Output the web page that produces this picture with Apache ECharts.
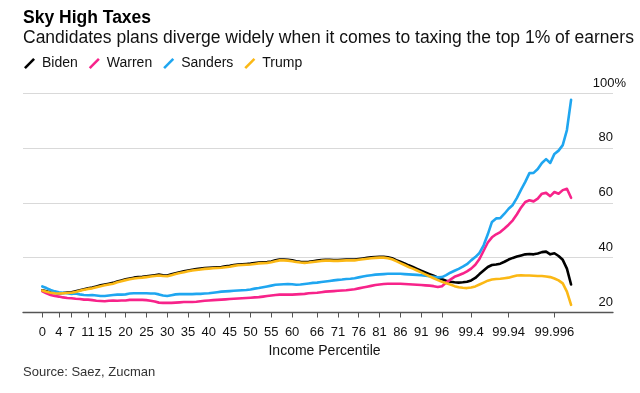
<!DOCTYPE html>
<html><head><meta charset="utf-8">
<script src="https://cdn.jsdelivr.net/npm/echarts@6/dist/echarts.min.js"></script>
<style>html,body{margin:0;padding:0;background:#fff}#c{width:640px;height:393px}</style>
</head><body><div id="c"></div>
<script>
// Income percentile groups (one category per group)
const categories = [
 '0','1','2','3','4','5','6','7','8','9',
 '10','11','12','13','14','15','16','17','18','19',
 '20','21','22','23','24','25','26','27','28','29',
 '30','31','32','33','34','35','36','37','38','39',
 '40','41','42','43','44','45','46','47','48','49',
 '50','51','52','53','54','55','56','57','58','59',
 '60','61','62','63','64','65','66','67','68','69',
 '70','71','72','73','74','75','76','77','78','79',
 '80','81','82','83','84','85','86','87','88','89',
 '90','91','92','93','94','95','96','97','98','99',
 '99.1','99.2','99.3','99.4','99.5','99.6','99.7','99.8','99.9',
 '99.91','99.92','99.93','99.94','99.95','99.96','99.97','99.98','99.99',
 '99.991','99.992','99.993','99.994','99.995','99.996','99.997','99.998','99.999',
 '99.9991'
];
const tickLabels = ['0','4','7','11','15','20','25','30','35','40','45','50','55','60','66','71','76','81','86','91','96','99.4','99.94','99.996'];
const yTicks = [20, 40, 60, 80, 100];

const biden = [
 28.1,27.7,27.3,27.1,27.0,27.1,27.3,27.4,27.7,28.1,
 28.5,28.8,29.1,29.5,29.9,30.2,30.5,30.8,31.3,31.7,
 32.1,32.4,32.7,32.9,33.0,33.2,33.4,33.6,33.8,33.6,
 33.5,33.9,34.3,34.7,35.0,35.3,35.6,35.8,36.0,36.2,
 36.3,36.4,36.5,36.6,36.8,37.0,37.3,37.5,37.6,37.7,
 37.8,38.0,38.2,38.3,38.4,38.6,39.0,39.3,39.3,39.2,
 39.0,38.7,38.5,38.4,38.5,38.7,38.9,39.1,39.2,39.2,
 39.1,39.1,39.2,39.3,39.3,39.3,39.5,39.7,39.9,40.1,
 40.2,40.3,40.3,40.1,39.8,39.1,38.5,37.9,37.2,36.6,
 35.9,35.2,34.6,34.0,33.4,32.7,32.1,31.6,31.2,31.0,
 30.9,31.0,31.2,31.7,32.6,34.0,35.3,36.6,37.3,37.5,
 37.8,38.5,39.3,39.9,40.4,40.8,41.2,41.3,41.2,41.5,
 42.0,42.2,41.2,41.6,40.6,39.2,36.0,30.2
];
const warren = [
 27.7,27.0,26.4,26.0,25.8,25.5,25.3,25.2,25.0,24.9,
 24.7,24.7,24.5,24.3,24.2,24.1,24.3,24.4,24.3,24.4,
 24.4,24.6,24.6,24.6,24.6,24.5,24.3,24.0,23.6,23.5,
 23.5,23.5,23.6,23.7,23.8,23.8,23.8,23.9,24.1,24.3,
 24.4,24.5,24.6,24.7,24.8,24.9,25.0,25.1,25.2,25.3,
 25.4,25.5,25.6,25.8,26.0,26.2,26.4,26.5,26.5,26.5,
 26.5,26.6,26.7,26.8,27.0,27.1,27.2,27.4,27.6,27.7,
 27.8,27.9,28.0,28.1,28.3,28.5,28.8,29.1,29.4,29.7,
 30.0,30.2,30.4,30.5,30.5,30.5,30.5,30.4,30.3,30.2,
 30.1,30.0,29.9,29.8,29.6,29.3,29.6,30.9,32.0,33.0,
 33.6,34.2,35.0,36.0,37.4,39.5,42.5,45.5,47.4,48.5,
 49.3,50.6,52.0,53.6,55.8,58.3,60.3,60.9,60.5,61.5,
 63.3,63.6,62.4,63.9,63.3,64.6,65.1,61.8
];
const sanders = [
 29.5,28.9,28.2,27.7,27.4,27.2,27.0,26.8,26.9,26.6,
 26.4,26.3,26.4,26.2,26.0,26.0,26.2,26.4,26.5,26.5,
 26.6,26.9,27.0,27.0,27.0,27.0,26.9,26.9,26.6,26.2,
 26.0,26.3,26.6,26.7,26.7,26.7,26.7,26.8,26.8,26.9,
 27.0,27.2,27.4,27.6,27.7,27.8,27.9,28.0,28.1,28.2,
 28.4,28.7,28.9,29.2,29.5,29.8,30.1,30.2,30.3,30.4,
 30.3,30.1,30.2,30.4,30.6,30.8,30.9,31.1,31.3,31.5,
 31.7,31.9,32.0,32.2,32.3,32.5,32.8,33.1,33.4,33.6,
 33.8,33.9,34.0,34.1,34.1,34.1,34.1,34.0,33.9,33.8,
 33.7,33.6,33.4,33.2,33.0,32.8,32.9,33.6,34.5,35.2,
 35.9,36.7,37.6,39.0,40.2,41.7,44.5,48.5,53.0,54.3,
 54.4,56.0,57.8,59.2,61.8,64.8,67.6,70.8,70.9,72.3,
 74.5,75.9,74.5,77.8,79.0,81.0,86.5,97.5
];
const trump = [
 28.0,27.6,27.2,27.0,26.9,27.0,27.1,27.2,27.5,27.9,
 28.3,28.6,28.8,29.2,29.6,29.9,30.2,30.5,31.0,31.4,
 31.8,32.1,32.4,32.6,32.7,32.9,33.1,33.3,33.5,33.3,
 33.2,33.6,34.0,34.4,34.7,35.0,35.3,35.5,35.7,35.9,
 36.0,36.1,36.2,36.3,36.5,36.7,37.0,37.2,37.3,37.4,
 37.5,37.7,37.9,38.0,38.1,38.3,38.7,39.0,39.0,38.9,
 38.7,38.4,38.2,38.1,38.2,38.4,38.6,38.8,38.9,38.9,
 38.8,38.8,38.9,39.0,39.0,39.0,39.2,39.4,39.6,39.8,
 39.9,40.0,40.0,39.8,39.4,38.7,38.0,37.3,36.6,36.0,
 35.3,34.6,33.9,33.2,32.5,31.8,31.2,30.7,30.2,29.6,
 29.2,29.0,28.9,29.1,29.5,30.2,30.9,31.6,32.0,32.2,
 32.3,32.5,32.7,33.1,33.5,33.6,33.5,33.5,33.4,33.3,
 33.3,33.1,32.9,32.4,31.7,30.6,27.6,22.8
];

const seriesNames = ['Biden', 'Warren', 'Sanders', 'Trump'];
const seriesValues = [biden, warren, sanders, trump];
const seriesColors = ['#000000', '#f7238a', '#1fa6f0', '#fbb815'];

const FONT = "'Liberation Sans', Arial, Helvetica, sans-serif";
const slash = 'path://M0,9.2 L9.2,0 L11,1.8 L1.8,11 Z';
const tickIdx = tickLabels.map(l => categories.indexOf(l));

const chart = echarts.init(document.getElementById('c'), null, {renderer: 'canvas'});
chart.setOption({
  animation: false,
  backgroundColor: '#ffffff',
  textStyle: {fontFamily: FONT},
  title: [
    {text: 'Sky High Taxes', left: 23, top: 8.7, padding: 0,
     textStyle: {fontFamily: FONT, fontSize: 17.5, fontWeight: 'bold', color: '#000'}},
    {text: 'Candidates plans diverge widely when it comes to taxing the top 1% of earners', left: 23, top: 29.3, padding: 0,
     textStyle: {fontFamily: FONT, fontSize: 17.5, fontWeight: 'normal', color: '#111'}},
    {text: 'Source: Saez, Zucman', left: 23, top: 366, padding: 0,
     textStyle: {fontFamily: FONT, fontSize: 13, fontWeight: 'normal', color: '#333'}}
  ],
  legend: {
    left: 24, top: 56.5, padding: 0, itemWidth: 11, itemHeight: 11, itemGap: 11,
    icon: slash,
    textStyle: {fontFamily: FONT, fontSize: 14, color: '#111', padding: [0, 0, 0, 2]},
    data: seriesNames
  },
  grid: {left: 23, right: 27, top: 93, bottom: 80.5, containLabel: false},
  xAxis: {
    type: 'value', min: -4.636, max: 137.07,
    name: 'Income Percentile', nameLocation: 'middle', nameGap: 28,
    nameTextStyle: {fontFamily: FONT, fontSize: 14, color: '#111', padding: [0, 0, 0, 13]},
    axisLine: {show: true, lineStyle: {color: '#555', width: 1.3}},
    axisTick: {show: true, length: 5, lineStyle: {color: '#555', width: 1}, customValues: tickIdx},
    axisLabel: {fontFamily: FONT, fontSize: 13, color: '#111', margin: 13.5, customValues: tickIdx,
      formatter: v => categories[Math.round(v)] || ''},
    splitLine: {show: false}
  },
  yAxis: {
    type: 'value', position: 'right', min: yTicks[0], max: yTicks[yTicks.length - 1], interval: 20,
    axisLine: {show: false}, axisTick: {show: false},
    splitLine: {show: true, lineStyle: {color: '#d9d9d9', width: 1}},
    axisLabel: {
      inside: true, margin: -13, verticalAlign: 'bottom', fontFamily: FONT, fontSize: 13, color: '#111',
      formatter: v => v === 100 ? '{p|100%}' : '{n|' + v + '}',
      rich: {
        p: {fontFamily: FONT, fontSize: 13, color: '#111', padding: [0, 0, 3.5, 0]},
        n: {fontFamily: FONT, fontSize: 13, color: '#111', padding: [0, 13, 3.5, 0]}
      }
    }
  },
  series: seriesNames.map((name, k) => ({
    name, type: 'line', showSymbol: false, symbol: 'none',
    color: seriesColors[k],
    lineStyle: {width: 2.6, color: seriesColors[k], cap: 'round', join: 'round'},
    emphasis: {disabled: true},
    data: seriesValues[k].map((v, i) => [i, v])
  }))
});
</script>
</body></html>
